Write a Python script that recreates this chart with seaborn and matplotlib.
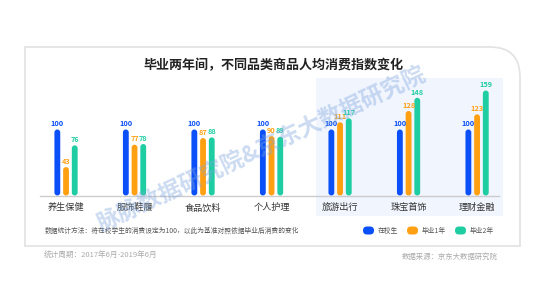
import numpy as np
import pandas as pd
import matplotlib
matplotlib.use("Agg")
import matplotlib.pyplot as plt
import seaborn as sns
from matplotlib.patches import FancyBboxPatch, Rectangle, PathPatch
from matplotlib.path import Path

# ---------------- data ----------------
categories = ['养生保健', '服饰鞋履', '食品饮料', '个人护理', '旅游出行', '珠宝首饰', '理财金融']
series = ['在校生', '毕业1年', '毕业2年']
in_school = [100, 100, 100, 100, 100, 100, 100]
grad_1yr = [43, 77, 87, 90, 111, 128, 123]
grad_2yr = [76, 78, 88, 89, 117, 148, 159]
colors = ['#0A4FF7', '#FFA012', '#1ECDA2']

title = '毕业两年间，不同品类商品人均消费指数变化'
note = '数据统计方法：将在校学生的消费设定为100，以此为基准对照依据毕业后消费的变化'
period = '统计周期：2017年6月-2019年6月'
source = '数据来源：京东大数据研究院'
watermark = '脉脉数据研究院&京东大数据研究院'

df = pd.DataFrame({
    'category': categories * 3,
    'series': [series[0]] * 7 + [series[1]] * 7 + [series[2]] * 7,
    'value': in_school + grad_1yr + grad_2yr,
})

# ---------------- figure ----------------
sns.set_style('white')
plt.rcParams['font.family'] = ['Noto Sans CJK SC', 'DejaVu Sans']

W, H = 550, 305
fig = plt.figure(figsize=(W / 100, H / 100), dpi=100)
fig.patch.set_facecolor('white')

# background overlay in pixel coordinates
bg = fig.add_axes([0, 0, 1, 1], zorder=0)
bg.set_xlim(0, W)
bg.set_ylim(H, 0)
bg.axis('off')

# card with rounded top-right corner
L, T, R, B, r = 25, 47, 520, 246, 30
verts = [(L, B), (L, T), (R - r, T), (R, T), (R, T + r), (R, B), (L, B)]
codes = [Path.MOVETO, Path.LINETO, Path.LINETO, Path.CURVE3, Path.CURVE3, Path.LINETO, Path.CLOSEPOLY]
bg.add_patch(PathPatch(Path(verts, codes), fc='white', ec='#E2E2E2', lw=1.2))

# highlight box
bg.add_patch(Rectangle((316, 78), 187, 138, fc='#F1F5FE', ec='none'))

bg.text(273, 65, title, ha='center', va='center', fontsize=9.4, fontweight='bold', color='#222222')
bg.text(45, 231, note, ha='left', va='center', fontsize=4.85, color='#555555')
bg.text(44, 256, period, ha='left', va='center', fontsize=5.5, color='#AAAAAA')
bg.text(498, 257, source, ha='right', va='center', fontsize=5.3, color='#AAAAAA')

# legend
leg_x = [363, 407, 455]
for sx, name, c in zip(leg_x, series, colors):
    bg.add_patch(FancyBboxPatch((sx, 226.5), 11, 8, boxstyle='round,pad=0,rounding_size=4',
                                fc=c, ec='none'))
    bg.text(sx + 15, 230.5, name, ha='left', va='center', fontsize=4.9, color='#555555')

# ---------------- bar axes ----------------
ax_left, ax_right = 40, 499
base_y, top_y = 195.5, 83.3
ymax = 170
ax = fig.add_axes([ax_left / W, (H - base_y) / H, (ax_right - ax_left) / W, (base_y - top_y) / H], zorder=1)
ax.set_facecolor('none')

sns.barplot(data=df, x='category', y='value', hue='series', order=categories, hue_order=series,
            palette=colors, saturation=1, width=0.381, gap=0.33, errorbar=None, legend=False, ax=ax)

ax.set_xlim(-0.38, 6.32)
ax.set_ylim(0, ymax)
ax.set_yticks([])
ax.set_xlabel('')
ax.set_ylabel('')
for s in ['top', 'left', 'right']:
    ax.spines[s].set_visible(False)
ax.spines['bottom'].set_color('#CCCCCC')
ax.spines['bottom'].set_linewidth(1.0)
ax.tick_params(axis='x', length=0, pad=5.5, labelsize=6.6, labelcolor='#333333')

# rounded (pill) bars + value labels
xr = (6.32 + 0.38) / (ax_right - ax_left)
yr = ymax / (base_y - top_y)
ma = yr / xr
for p in list(ax.patches):
    x, y, w, h = p.get_x(), p.get_y(), p.get_width(), p.get_height()
    c = p.get_facecolor()
    p.remove()
    ax.add_patch(FancyBboxPatch((x, y), w, h, boxstyle=f'round,pad=0,rounding_size={w / 2}',
                                mutation_aspect=ma, fc=c, ec='none', clip_on=False))
    ax.text(x + w / 2, h + 3.5, f'{int(round(h))}', ha='center', va='bottom',
            fontsize=5.3, fontweight='bold', color=c)

# watermark overlay
top = fig.add_axes([0, 0, 1, 1], zorder=5)
top.set_xlim(0, W)
top.set_ylim(H, 0)
top.axis('off')
top.text(262, 150, watermark, ha='center', va='center', rotation=25, rotation_mode='anchor',
         fontsize=16.5, fontweight='bold', color='#7FA6DC', alpha=0.4)

fig.savefig('out.png', dpi=100)
